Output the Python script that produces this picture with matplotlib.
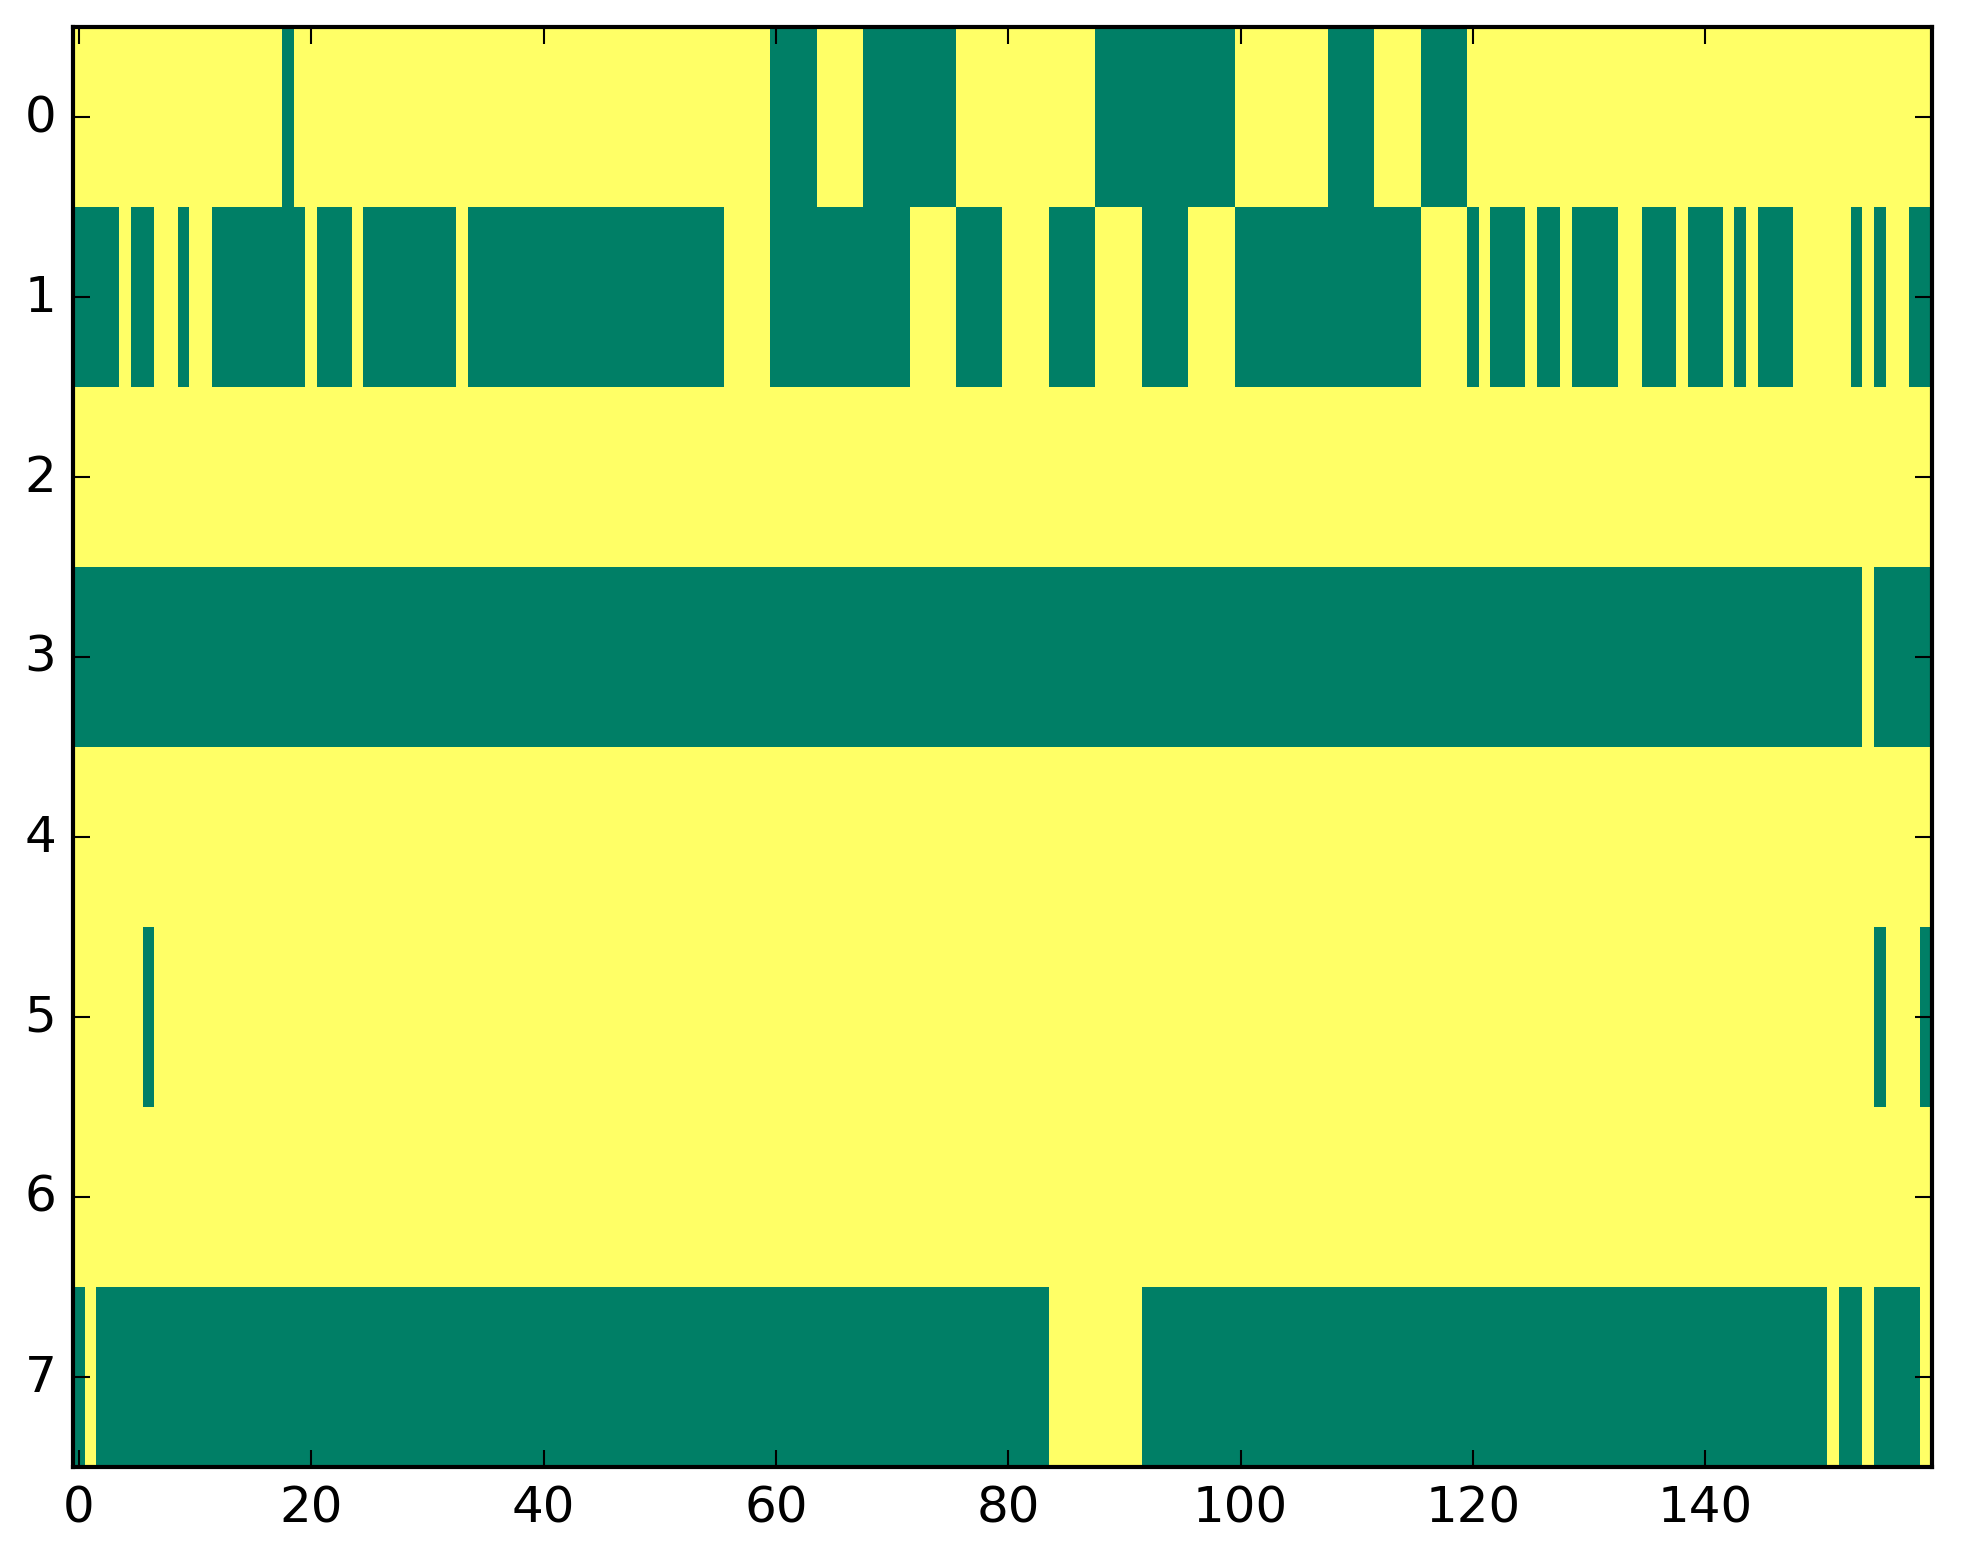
"""Binary state map (8 rows x 160 steps) drawn with imshow, classic look -> out.png."""

import matplotlib

matplotlib.use("Agg")
import matplotlib.pyplot as plt
import numpy as np

N_ROWS = 8
N_COLS = 160

# runs of zeros (green) per row, inclusive column ranges; everything else is 1 (yellow)
row0_zeros = [(18, 18), (60, 63), (68, 75), (88, 99), (108, 111), (116, 119)]
row1_zeros = [
    (0, 3), (5, 6), (9, 9), (12, 19), (21, 23), (25, 32), (34, 55), (60, 71),
    (76, 79), (84, 87), (92, 95), (100, 115), (120, 120), (122, 124), (126, 127),
    (129, 132), (135, 137), (139, 141), (143, 143), (145, 147), (153, 153),
    (155, 155), (158, 159),
]
row2_zeros = []
row3_zeros = [(0, 153), (155, 159)]
row4_zeros = []
row5_zeros = [(6, 6), (155, 155), (159, 159)]
row6_zeros = []
row7_zeros = [(0, 0), (2, 83), (92, 150), (152, 153), (155, 158)]

ROW_ZEROS = [row0_zeros, row1_zeros, row2_zeros, row3_zeros,
             row4_zeros, row5_zeros, row6_zeros, row7_zeros]

plt.style.use("classic")
plt.rcParams.update({
    "figure.facecolor": "white",
    "savefig.facecolor": "white",
    "font.family": "DejaVu Sans",
    "font.size": 12,
})


def build_grid() -> np.ndarray:
    grid = np.ones((N_ROWS, N_COLS))
    for r, runs in enumerate(ROW_ZEROS):
        for a, b in runs:
            grid[r, a:b + 1] = 0
    return grid


def main() -> None:
    grid = build_grid()
    dpi = 300
    fig = plt.figure(figsize=(1963 / dpi, 1564 / dpi), dpi=dpi)
    ax = fig.add_axes([73 / 1963, 1 - 1468 / 1564, (1932 - 73) / 1963, (1468 - 28) / 1564])
    ax.imshow(grid, cmap="summer", aspect="auto", interpolation="nearest", vmin=0, vmax=1)
    ax.set_xticks(np.arange(0, N_COLS, 20))
    ax.set_yticks(np.arange(N_ROWS))
    fig.savefig("out.png", dpi=dpi)
    plt.close(fig)


if __name__ == "__main__":
    main()
